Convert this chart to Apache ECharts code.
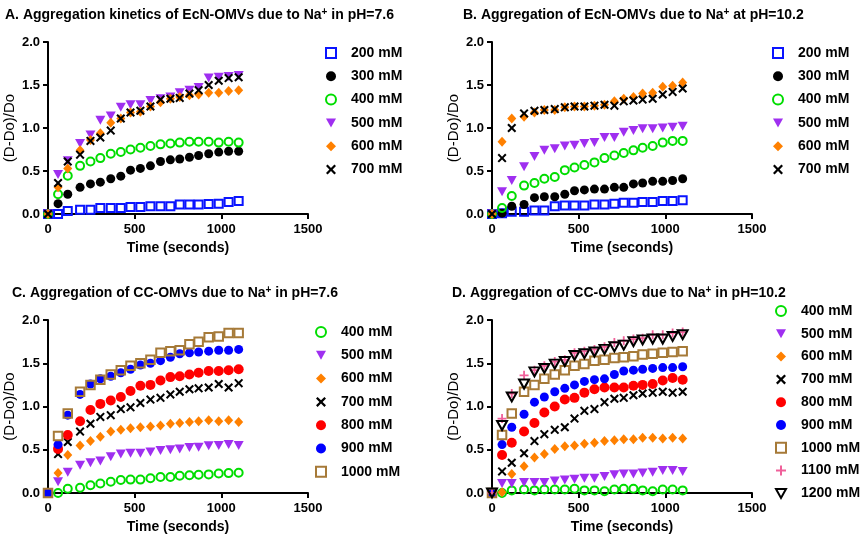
<!DOCTYPE html>
<html>
<head>
<meta charset="utf-8">
<script src="https://cdn.jsdelivr.net/npm/echarts@6/dist/echarts.min.js"></script>
<style>html,body{margin:0;padding:0;background:#fff}#c{width:862px;height:539px}</style>
</head>
<body>
<div id="c"></div>
<script>
// ---- data ----
const timeSec = [0, 58, 114, 185, 245, 302, 362, 420, 476, 533, 591, 649, 706, 760, 816, 869, 927, 985, 1042, 1100];
const xTicks = [0, 500, 1000, 1500];
const yTicks = [0.0, 0.5, 1.0, 1.5, 2.0];

const panelATitle = 'A. Aggregation kinetics of EcN-OMVs due to Na{sup|+} in pH=7.6';
const panelBTitle = 'B. Aggregation of EcN-OMVs due to Na{sup|+} at pH=10.2';
const panelCTitle = 'C. Aggregation of CC-OMVs due to Na{sup|+} in pH=7.6';
const panelDTitle = 'D. Aggregation of CC-OMVs due to Na{sup|+} in pH=10.2';

const panelALabels = ['200 mM', '300 mM', '400 mM', '500 mM', '600 mM', '700 mM'];
const panelBLabels = ['200 mM', '300 mM', '400 mM', '500 mM', '600 mM', '700 mM'];
const panelCLabels = ['400 mM', '500 mM', '600 mM', '700 mM', '800 mM', '900 mM', '1000 mM'];
const panelDLabels = ['400 mM', '500 mM', '600 mM', '700 mM', '800 mM', '900 mM', '1000 mM', '1100 mM', '1200 mM'];

const a200 = [0, 0, 0.035, 0.05, 0.05, 0.07, 0.07, 0.07, 0.08, 0.08, 0.09, 0.09, 0.09, 0.11, 0.11, 0.11, 0.115, 0.12, 0.14, 0.15];
const a300 = [0, 0.12, 0.23, 0.31, 0.35, 0.37, 0.41, 0.44, 0.51, 0.53, 0.56, 0.61, 0.63, 0.64, 0.66, 0.68, 0.70, 0.72, 0.73, 0.73];
const a400 = [0, 0.23, 0.445, 0.56, 0.61, 0.65, 0.70, 0.72, 0.75, 0.77, 0.79, 0.81, 0.82, 0.83, 0.84, 0.84, 0.84, 0.83, 0.84, 0.83];
const a500 = [0, 0.46, 0.62, 0.82, 0.92, 1.09, 1.14, 1.24, 1.27, 1.27, 1.32, 1.34, 1.36, 1.41, 1.44, 1.47, 1.58, 1.59, 1.60, 1.61];
const a600 = [0, 0.31, 0.53, 0.74, 0.86, 0.94, 1.06, 1.11, 1.18, 1.19, 1.25, 1.30, 1.34, 1.36, 1.38, 1.39, 1.41, 1.41, 1.43, 1.44];
const a700 = [0, 0.36, 0.61, 0.69, 0.85, 0.89, 0.97, 1.11, 1.18, 1.20, 1.25, 1.33, 1.34, 1.35, 1.40, 1.44, 1.50, 1.55, 1.58, 1.59];

const b200 = [0, 0.01, 0.025, 0.025, 0.04, 0.04, 0.09, 0.10, 0.10, 0.10, 0.11, 0.11, 0.12, 0.13, 0.13, 0.14, 0.14, 0.15, 0.15, 0.16];
const b300 = [0, 0.01, 0.09, 0.11, 0.19, 0.20, 0.20, 0.23, 0.27, 0.28, 0.29, 0.29, 0.31, 0.31, 0.35, 0.36, 0.38, 0.38, 0.39, 0.41];
const b400 = [0, 0.07, 0.21, 0.33, 0.36, 0.41, 0.43, 0.51, 0.54, 0.57, 0.60, 0.65, 0.68, 0.71, 0.74, 0.77, 0.79, 0.83, 0.85, 0.85];
const b500 = [0, 0.26, 0.39, 0.55, 0.67, 0.74, 0.76, 0.79, 0.80, 0.82, 0.83, 0.89, 0.89, 0.95, 0.97, 0.99, 0.99, 1.00, 1.01, 1.02];
const b600 = [0, 0.84, 1.11, 1.13, 1.18, 1.21, 1.21, 1.24, 1.25, 1.25, 1.26, 1.27, 1.31, 1.34, 1.36, 1.40, 1.41, 1.48, 1.49, 1.53];
const b700 = [0, 0.65, 1.00, 1.17, 1.20, 1.21, 1.22, 1.24, 1.25, 1.25, 1.26, 1.27, 1.26, 1.31, 1.32, 1.33, 1.34, 1.39, 1.42, 1.46];

const c400 = [0, 0, 0.05, 0.06, 0.09, 0.11, 0.13, 0.15, 0.155, 0.155, 0.17, 0.185, 0.185, 0.20, 0.205, 0.21, 0.215, 0.225, 0.23, 0.235];
const c500 = [0, 0.13, 0.24, 0.32, 0.35, 0.37, 0.42, 0.45, 0.46, 0.46, 0.475, 0.49, 0.50, 0.51, 0.525, 0.53, 0.545, 0.55, 0.56, 0.55];
const c600 = [0, 0.23, 0.44, 0.55, 0.60, 0.65, 0.71, 0.73, 0.75, 0.76, 0.77, 0.78, 0.80, 0.81, 0.82, 0.83, 0.84, 0.83, 0.84, 0.82];
const c700 = [0, 0.45, 0.59, 0.71, 0.80, 0.88, 0.90, 0.97, 0.99, 1.04, 1.08, 1.10, 1.14, 1.17, 1.20, 1.21, 1.22, 1.26, 1.22, 1.27];
const c800 = [0, 0.51, 0.67, 0.83, 0.96, 1.03, 1.07, 1.11, 1.18, 1.24, 1.25, 1.30, 1.34, 1.35, 1.37, 1.39, 1.41, 1.41, 1.42, 1.43];
const c900 = [0, 0.56, 0.90, 1.14, 1.26, 1.32, 1.35, 1.39, 1.43, 1.48, 1.50, 1.53, 1.57, 1.61, 1.62, 1.63, 1.64, 1.65, 1.65, 1.66];
const c1000 = [0, 0.66, 0.92, 1.17, 1.25, 1.31, 1.37, 1.42, 1.47, 1.50, 1.54, 1.62, 1.64, 1.65, 1.72, 1.75, 1.80, 1.81, 1.85, 1.85];

const d400 = [0, 0, 0.03, 0.04, 0.03, 0.04, 0.04, 0.04, 0.05, 0.03, 0.03, 0.02, 0.04, 0.05, 0.05, 0.03, 0.02, 0.04, 0.04, 0.03];
const d500 = [0, 0.11, 0.11, 0.12, 0.12, 0.12, 0.14, 0.15, 0.16, 0.17, 0.17, 0.19, 0.21, 0.22, 0.22, 0.23, 0.24, 0.26, 0.26, 0.25];
const d600 = [0, 0.01, 0.22, 0.31, 0.41, 0.45, 0.51, 0.54, 0.55, 0.57, 0.58, 0.60, 0.61, 0.62, 0.62, 0.64, 0.64, 0.63, 0.64, 0.63];
const d700 = [0, 0.25, 0.35, 0.46, 0.60, 0.68, 0.73, 0.76, 0.86, 0.95, 0.97, 1.05, 1.09, 1.10, 1.13, 1.15, 1.16, 1.17, 1.16, 1.17];
const d800 = [0, 0.44, 0.58, 0.71, 0.81, 0.93, 1.00, 1.08, 1.10, 1.16, 1.20, 1.22, 1.22, 1.22, 1.24, 1.25, 1.26, 1.30, 1.33, 1.31];
const d900 = [0, 0.56, 0.76, 0.91, 1.05, 1.11, 1.17, 1.21, 1.25, 1.29, 1.31, 1.32, 1.37, 1.41, 1.42, 1.43, 1.44, 1.45, 1.45, 1.46];
const d1000 = [0, 0.67, 0.92, 1.17, 1.25, 1.32, 1.37, 1.42, 1.47, 1.49, 1.53, 1.54, 1.56, 1.57, 1.58, 1.60, 1.61, 1.62, 1.63, 1.64];
const d1100 = [0, 0.86, 1.15, 1.36, 1.42, 1.47, 1.52, 1.54, 1.62, 1.64, 1.66, 1.69, 1.74, 1.76, 1.78, 1.79, 1.83, 1.83, 1.85, 1.86];
const d1200 = [0, 0.78, 1.11, 1.26, 1.40, 1.44, 1.49, 1.52, 1.59, 1.61, 1.63, 1.66, 1.69, 1.71, 1.75, 1.77, 1.78, 1.78, 1.81, 1.83];

const panelAValues = [a200, a300, a400, a500, a600, a700];
const panelBValues = [b200, b300, b400, b500, b600, b700];
const panelCValues = [c400, c500, c600, c700, c800, c900, c1000];
const panelDValues = [d400, d500, d600, d700, d800, d900, d1000, d1100, d1200];

// ---- styles ----
const FONT = 'Arial, "Liberation Sans", sans-serif';
const X_PATH = 'path://M1.6,0L5,3.4L8.4,0L10,1.6L6.6,5L10,8.4L8.4,10L5,6.6L1.6,10L0,8.4L3.4,5L0,1.6Z';
const PLUS_PATH = 'path://M4,0H6V4H10V6H6V10H4V6H0V4H4Z';
const DOWN_TRI = 'path://M0,0L10,0L5,9Z';
const markerStyles = {
  '200 mM': {symbol: 'rect', size: 8, fill: 'rgba(255,255,255,0)', stroke: '#0a14ff', bw: 2},
  '300 mM': {symbol: 'circle', size: 9, fill: '#000000'},
  '400 mM': {symbol: 'circle', size: 8, fill: 'rgba(255,255,255,0)', stroke: '#00dd00', bw: 2},
  '500 mM': {symbol: DOWN_TRI, size: [10, 9], fill: '#9f2ff0'},
  '600 mM': {symbol: 'diamond', size: [9, 10], fill: '#ff8000'},
  '700 mM': {symbol: X_PATH, size: 9, fill: '#000000'},
  '800 mM': {symbol: 'circle', size: 10, fill: '#ff0000'},
  '900 mM': {symbol: 'circle', size: 9, fill: '#0000ff'},
  '1000 mM': {symbol: 'rect', size: 8.5, fill: 'rgba(255,255,255,0)', stroke: '#a67a38', bw: 2},
  '1100 mM': {symbol: PLUS_PATH, size: 9, fill: '#f0609a'},
  '1200 mM': {symbol: DOWN_TRI, size: [10, 9], fill: 'rgba(255,255,255,0)', stroke: '#000000', bw: 2}
};

const panels = [
  {title: panelATitle, labels: panelALabels, values: panelAValues, grid: {left: 48, top: 42, width: 260, height: 172},
   titlePos: {left: 5, top: 7}, legendPos: {left: 325, top: 46}, legendGap: 9.3},
  {title: panelBTitle, labels: panelBLabels, values: panelBValues, grid: {left: 492, top: 42, width: 260, height: 172},
   titlePos: {left: 463, top: 7}, legendPos: {left: 772, top: 46}, legendGap: 9.3},
  {title: panelCTitle, labels: panelCLabels, values: panelCValues, grid: {left: 48, top: 320, width: 260, height: 173},
   titlePos: {left: 12, top: 285}, legendPos: {left: 315, top: 325}, legendGap: 9.3},
  {title: panelDTitle, labels: panelDLabels, values: panelDValues, grid: {left: 492, top: 320, width: 260, height: 173},
   titlePos: {left: 452, top: 285}, legendPos: {left: 775, top: 304}, legendGap: 8.8}
];

const titles = [], grids = [], xAxes = [], yAxes = [], legends = [], series = [];
panels.forEach((p, i) => {
  titles.push({
    text: p.title, left: p.titlePos.left, top: p.titlePos.top, padding: 0,
    textStyle: {fontFamily: FONT, fontSize: 14, fontWeight: 'bold', color: '#000', lineHeight: 16,
      rich: {sup: {fontFamily: FONT, fontSize: 10, fontWeight: 'bold', color: '#000', lineHeight: 7, verticalAlign: 'top'}}}
  });
  grids.push(Object.assign({containLabel: false}, p.grid));
  xAxes.push({
    gridIndex: i, type: 'value', min: xTicks[0], max: xTicks[xTicks.length - 1], interval: xTicks[1] - xTicks[0],
    axisLine: {show: true, onZero: false, lineStyle: {color: '#000', width: 2}},
    axisTick: {show: true, length: 5, lineStyle: {color: '#000', width: 2}},
    splitLine: {show: false},
    axisLabel: {color: '#000', fontFamily: FONT, fontSize: 13, fontWeight: 'bold', margin: 9,
      formatter: v => String(v)},
    name: 'Time (seconds)', nameLocation: 'middle', nameGap: 27,
    nameTextStyle: {color: '#000', fontFamily: FONT, fontSize: 14, fontWeight: 'bold'}
  });
  yAxes.push({
    gridIndex: i, type: 'value', min: yTicks[0], max: yTicks[yTicks.length - 1], interval: yTicks[1] - yTicks[0],
    axisLine: {show: true, onZero: false, lineStyle: {color: '#000', width: 2}},
    axisTick: {show: true, length: 5, lineStyle: {color: '#000', width: 2}},
    splitLine: {show: false},
    axisLabel: {color: '#000', fontFamily: FONT, fontSize: 13, fontWeight: 'bold', margin: 8,
      formatter: v => v.toFixed(1)},
    name: '(D-Do)/Do', nameLocation: 'middle', nameGap: 31,
    nameTextStyle: {color: '#000', fontFamily: FONT, fontSize: 15}
  });
  legends.push({
    orient: 'vertical', left: p.legendPos.left, top: p.legendPos.top, padding: 0,
    itemWidth: 10, itemHeight: 10, itemGap: p.legendGap, selectedMode: false,
    data: p.labels.slice(),
    textStyle: {color: '#000', fontFamily: FONT, fontSize: 14, fontWeight: 'bold', lineHeight: 14, padding: [0, 0, 0, 10]}
  });
  p.labels.forEach((name, k) => {
    const st = markerStyles[name];
    const vals = p.values[k];
    series.push({
      type: 'scatter', name: name, xAxisIndex: i, yAxisIndex: i, clip: false,
      symbol: st.symbol, symbolSize: st.size,
      itemStyle: {color: st.fill, borderColor: st.stroke || st.fill, borderWidth: st.bw || 0, opacity: 1},
      emphasis: {disabled: true},
      data: timeSec.map((t, j) => [t, vals[j]])
    });
  });
});

const chart = echarts.init(document.getElementById('c'), null, {renderer: 'canvas'});
chart.setOption({
  animation: false,
  backgroundColor: '#ffffff',
  title: titles, grid: grids, xAxis: xAxes, yAxis: yAxes, legend: legends, series: series
});
</script>
</body>
</html>
